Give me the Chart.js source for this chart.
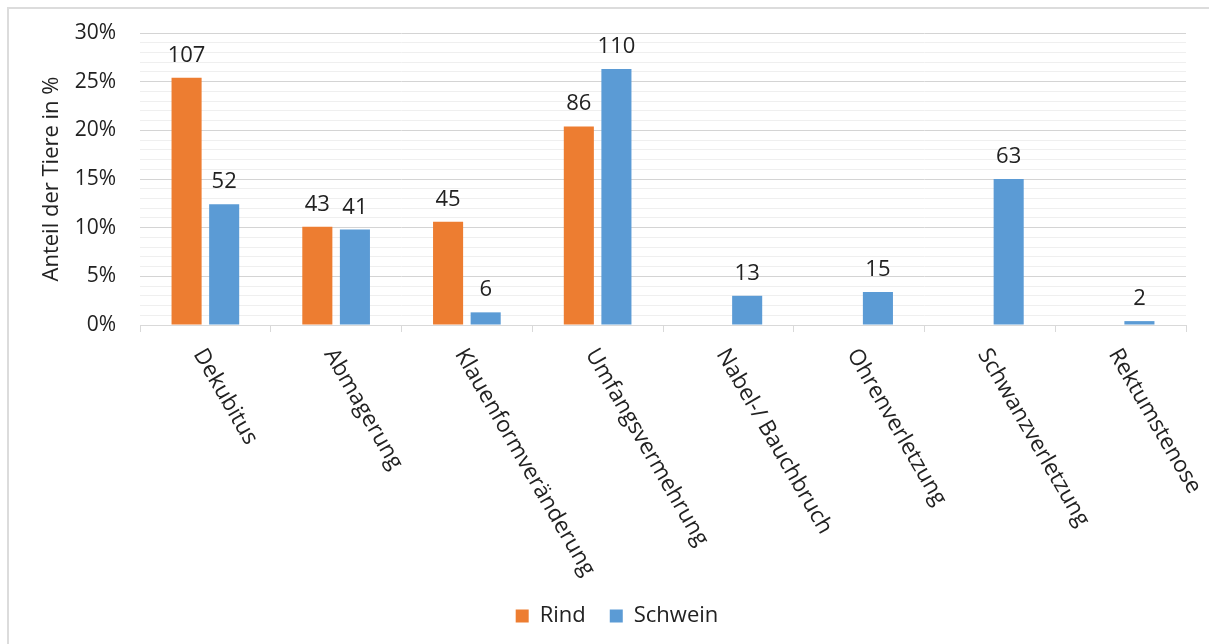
<!DOCTYPE html>
<html>
<head>
<meta charset="utf-8">
<script src="https://cdn.jsdelivr.net/npm/chart.js@4.4.1/dist/chart.umd.min.js"></script>
<style>
  html, body { margin: 0; padding: 0; background: #fff; overflow: hidden; }
  #rahmen { position: absolute; left: 7px; top: 7px; width: 1230px; height: 660px; border: 2px solid #dcdcdc; }
  #wrap { position: absolute; left: 0; top: 0; width: 1209px; height: 644px; }
</style>
</head>
<body>
<div id="rahmen"></div>
<div id="wrap"><canvas id="befundChart" width="1209" height="644"></canvas></div>
<script>
// Befunde je Tierart
const kategorien = ['Dekubitus', 'Abmagerung', 'Klauenformveränderung', 'Umfangsvermehrung',
  'Nabel-/ Bauchbruch', 'Ohrenverletzung', 'Schwanzverletzung', 'Rektumstenose'];
const rindAnteil = [25.4, 10.1, 10.6, 20.4, null, null, null, null];
const schweinAnteil = [12.4, 9.8, 1.3, 26.3, 3.0, 3.4, 15.0, 0.4];
const rindAnzahl = [107, 43, 45, 86, null, null, null, null];
const schweinAnzahl = [52, 41, 6, 110, 13, 15, 63, 2];
const yTickLabels = ['0%', '5%', '10%', '15%', '20%', '25%', '30%'];

const ORANGE = '#ED7D31';
const BLAU = '#5B9BD5';
const TEXT = '#222222';
const PLOT_BOTTOM = 325;
const PAD_BOTTOM = 7;
const LEGEND_SHIFT = 24;

//---------------- labels above bars + rotated category names ----------------
const beschriftung = {
  id: 'beschriftung',
  afterLayout(chart) {
    chart.legend.left += LEGEND_SHIFT;
    chart.legend.right += LEGEND_SHIFT;
  },
  afterDatasetsDraw(chart) {
    const ctx = chart.ctx;
    ctx.save();
    ctx.fillStyle = TEXT;
    ctx.font = '22px "Open Sans"';
    ctx.textAlign = 'center';
    ctx.textBaseline = 'alphabetic';
    [rindAnzahl, schweinAnzahl].forEach(function(anzahl, i) {
      chart.getDatasetMeta(i).data.forEach(function(bar, j) {
        if (anzahl[j] == null) return;
        ctx.fillText(String(anzahl[j]), bar.x, bar.y - 16);
      });
    });

    const xScale = chart.scales.x;
    ctx.font = '22.5px "Open Sans"';
    ctx.textAlign = 'left';
    ctx.textBaseline = 'top';
    kategorien.forEach(function(name, i) {
      const x = xScale.getPixelForTick(i);
      ctx.save();
      ctx.translate(x + 3, xScale.top + 20);
      ctx.rotate(60 * Math.PI / 180);
      ctx.fillText(name, 0, 0);
      ctx.restore();
    });
    ctx.restore();
  }
};

const befundChart = new Chart(document.getElementById('befundChart'), {
  type: 'bar',
  data: {
    labels: kategorien,
    datasets: [{
      label: 'Rind',
      data: rindAnteil,
      backgroundColor: ORANGE,
      categoryPercentage: 0.575,
      barPercentage: 0.8
    }, {
      label: 'Schwein',
      data: schweinAnteil,
      backgroundColor: BLAU,
      categoryPercentage: 0.575,
      barPercentage: 0.8
    }]
  },
  options: {
    responsive: false,
    animation: false,
    layout: { padding: { top: 33, right: 23, left: 0, bottom: PAD_BOTTOM } },
    plugins: {
      tooltip: { enabled: false },
      legend: {
        position: 'bottom',
        labels: {
          color: TEXT,
          font: { family: 'Open Sans', size: 22 },
          boxWidth: 13,
          boxHeight: 13,
          padding: 24
        }
      }
    },
    scales: {
      x: {
        afterFit: function(scale) {
          const legendH = scale.chart.legend ? scale.chart.legend.height : 0;
          scale.height = scale.chart.height - PAD_BOTTOM - legendH - PLOT_BOTTOM;
        },
        ticks: { display: false },
        grid: {
          offset: true,
          drawOnChartArea: false,
          drawTicks: true,
          tickLength: 7,
          color: '#d9d9d9'
        },
        border: { display: true, color: '#d9d9d9', width: 1 }
      },
      y: {
        min: 0,
        max: 30,
        afterFit: function(scale) { scale.width = 140; },
        ticks: {
          stepSize: 1,
          autoSkip: false,
          padding: 8,
          color: TEXT,
          font: { family: 'Open Sans', size: 21 },
          callback: function(v) { return v % 5 === 0 ? yTickLabels[v / 5] : ''; }
        },
        grid: {
          drawTicks: true,
          tickLength: 16,
          tickColor: 'rgba(0,0,0,0)',
          color: function(c) { return c.tick && c.tick.value % 5 === 0 ? '#d4d4d4' : '#efefef'; }
        },
        border: { display: false },
        title: {
          display: true,
          text: 'Anteil der Tiere in %',
          color: TEXT,
          font: { family: 'Open Sans', size: 22 },
          padding: { top: 39, bottom: 0 }
        }
      }
    }
  },
  plugins: [beschriftung]
});
</script>
</body>
</html>
